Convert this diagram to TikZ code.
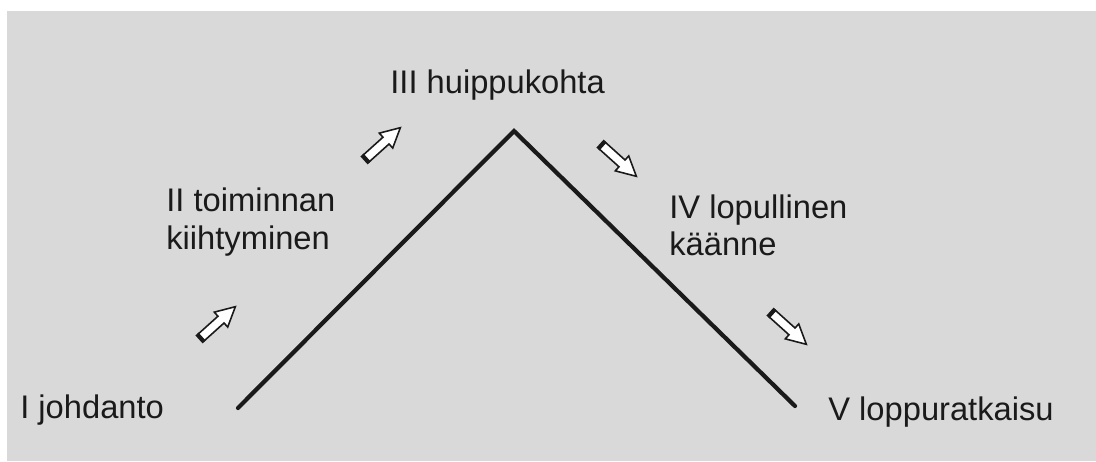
\documentclass[tikz,border=0pt]{standalone}
\usepackage{fontspec}
\setmainfont{Liberation Sans}
\usetikzlibrary{shapes.arrows}
\definecolor{bggrey}{HTML}{D9D9D9}
\definecolor{inkblack}{HTML}{1A1A1A}

\begin{document}
\begin{tikzpicture}[
  x=0.2mm, y=-0.2mm,
  every node/.style={font=\fontsize{18.6}{21.2}\selectfont, text=inkblack},
  stage/.style={anchor=west, inner sep=0pt, align=left},
  hollowarr/.style={single arrow, draw=inkblack, fill=white, line width=0.9pt,
    minimum height=0.92cm, inner xsep=0pt, inner ysep=0.075cm,
    single arrow head extend=0.11cm, single arrow tip angle=55,
    rotate=#1},
  tailmark/.style={draw=inkblack, line width=2.4pt},
  plotline/.style={draw=inkblack, line width=2.4pt, line cap=round, line join=miter},
]
\useasboundingbox (0,0) rectangle (1096,461);
\fill[bggrey] (7,11) rectangle (1096,461);

% the curve
\coordinate (start) at (238,408);
\coordinate (peak) at (514,131);
\coordinate (finish) at (795,406);
\draw[plotline] (start) -- (peak) -- (finish);

% stages
\node[stage] (intro) at (20,410) {I johdanto};
\node[stage] (rise) at (166,222) {II toiminnan\\kiihtyminen};
\node[stage] (climax) at (390,85) {III huippukohta};
\node[stage] (fall) at (669,225) {IV lopullinen\\käänne};
\node[stage] (ending) at (828,412) {V loppuratkaisu};

% direction arrows
\foreach \n/\p/\r in {up1/{(215,325)}/42, up2/{(380,146)}/42,
                      down1/{(616,158)}/-42, down2/{(786,326)}/-42} {
  \node[hollowarr=\r] (\n) at \p {};
  \draw[tailmark] (\n.before tail) -- (\n.after tail);
}
\end{tikzpicture}
\end{document}
